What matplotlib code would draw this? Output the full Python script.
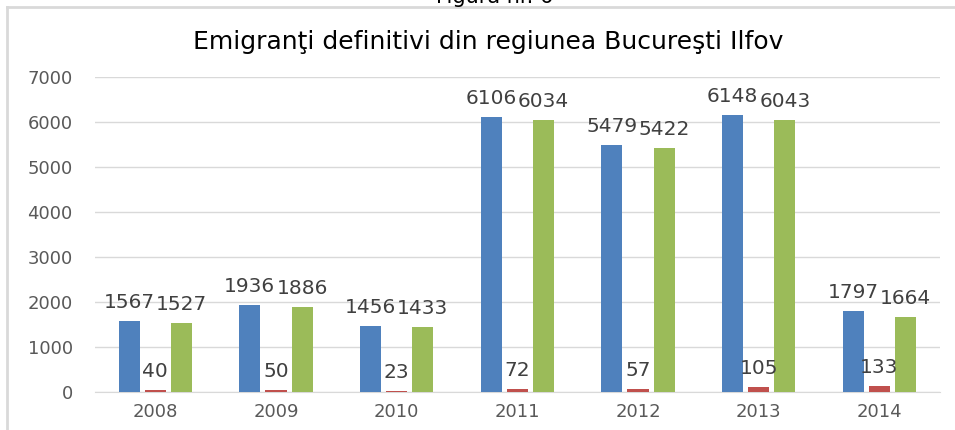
import matplotlib
matplotlib.use("Agg")
import matplotlib.pyplot as plt
import numpy as np
from matplotlib.lines import Line2D

# date
years = ["2008", "2009", "2010", "2011", "2012", "2013", "2014"]
total = [1567, 1936, 1456, 6106, 5479, 6148, 1797]
rural = [40, 50, 23, 72, 57, 105, 133]
urban = [1527, 1886, 1433, 6034, 5422, 6043, 1664]

series = [total, rural, urban]
colors = ["#4F81BD", "#C0504D", "#9BBB59"]

fig = plt.figure(figsize=(9.55, 4.3), dpi=100)
ax = fig.add_axes([0.0995, 0.0884, 0.8845, 0.7326])

x = np.arange(len(years))
w = 0.175
off = 0.217
for i, (vals, c) in enumerate(zip(series, colors)):
    pos = x + (i - 1) * off
    ax.bar(pos, vals, width=w, color=c, zorder=3)
    for p, v in zip(pos, vals):
        ax.text(p, v + 200, str(v), ha="center", va="bottom",
                fontsize=14.5, color="#404040", zorder=4)

ax.set_xlim(-0.5, len(years) - 0.5)
ax.set_ylim(0, 7000)
ax.set_yticks(range(0, 7001, 1000))
ax.set_xticks(x)
ax.set_xticklabels(years)
ax.grid(axis="y", color="#D9D9D9", linewidth=1, zorder=0)
for s in ["top", "right", "left"]:
    ax.spines[s].set_visible(False)
ax.spines["bottom"].set_color("#D9D9D9")
ax.tick_params(axis="both", length=0, labelsize=13, colors="#595959")
ax.tick_params(axis="y", pad=16)
ax.tick_params(axis="x", pad=8)

fig.text(0.511, 0.902, "Emigranţi definitivi din regiunea Bucureşti Ilfov",
         ha="center", va="center", fontsize=18, color="#000000")
fig.text(0.518, 1.008, "Figura nr. 6", ha="center", va="center",
         fontsize=15, color="#000000")

# chenar
fig.add_artist(Line2D([0.0075, 1.0], [0.984, 0.984], transform=fig.transFigure,
                      color="#D9D9D9", linewidth=2))
fig.add_artist(Line2D([0.0075, 0.0075], [0.0, 0.984], transform=fig.transFigure,
                      color="#D9D9D9", linewidth=2))

fig.savefig("out.png", dpi=100)
